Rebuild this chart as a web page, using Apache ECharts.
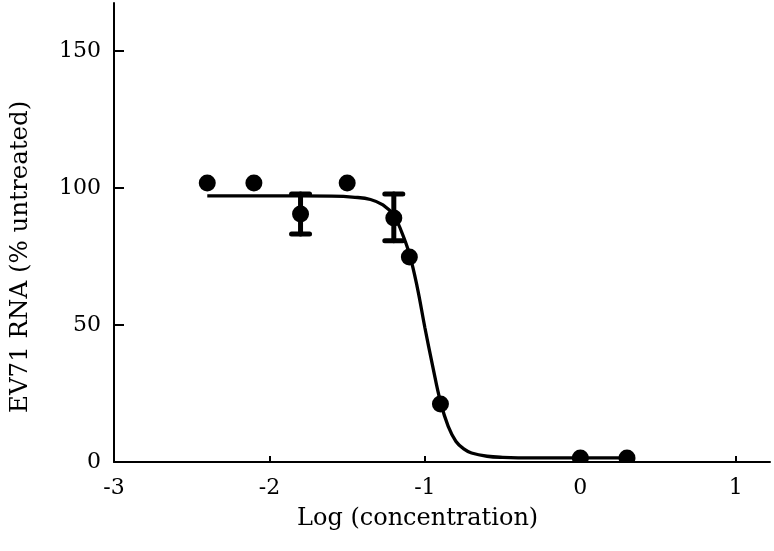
<!DOCTYPE html>
<html>
<head>
<meta charset="utf-8">
<script src="https://cdn.jsdelivr.net/npm/echarts@6/dist/echarts.min.js"></script>
<style>html,body{margin:0;padding:0;background:#fff;}#c{width:774px;height:551px;}</style>
</head>
<body>
<div id="c"></div>
<script>
// Measured points
const pointX = [-2.4, -2.1, -1.8, -1.5, -1.2, -1.1, -0.9, 0, 0.3];
const pointY = [101.8, 101.8, 90.5, 101.8, 89, 74.8, 21.2, 1.5, 1.5];
// Error bars (mean +/- SD)
const errX = [-1.8, -1.2];
const errLow = [83.2, 80.7];
const errHigh = [97.8, 97.8];
// Fitted curve
const curveX = [-2.4, -2.0, -1.6, -1.45, -1.35, -1.27, -1.2, -1.15, -1.1, -1.05, -1.0, -0.95, -0.9, -0.85, -0.8, -0.75, -0.7, -0.6, -0.5, -0.3, 0, 0.3];
const curveY = [97.1, 97.1, 97.0, 96.6, 95.8, 93.8, 90, 84, 76, 64, 49, 35, 22, 13, 7.5, 4.8, 3.3, 2.1, 1.7, 1.5, 1.5, 1.5];
// Ticks
const xTicks = [-3, -2, -1, 0, 1];
const yTicks = [0, 50, 100, 150];

const FONT = 'DejaVu Serif';
const chart = echarts.init(document.getElementById('c'), null, {renderer: 'canvas'});
chart.setOption({
  animation: false,
  backgroundColor: '#fff',
  grid: {left: 114, right: 4, top: 3, bottom: 89, containLabel: false},
  xAxis: {
    type: 'value', min: -3, max: 1.22,
    axisLine: {show: true, onZero: false, lineStyle: {color: '#000', width: 2}},
    axisTick: {show: true, inside: true, length: 6, lineStyle: {color: '#000', width: 2}, customValues: xTicks},
    axisLabel: {color: '#000', fontFamily: FONT, fontSize: 22, margin: 15, customValues: xTicks},
    splitLine: {show: false}
  },
  yAxis: {
    type: 'value', min: 0, max: 167.5,
    axisLine: {show: true, onZero: false, lineStyle: {color: '#000', width: 2}},
    axisTick: {show: true, inside: true, length: 10, lineStyle: {color: '#000', width: 2}, customValues: yTicks},
    axisLabel: {color: '#000', fontFamily: FONT, fontSize: 22, margin: 13, customValues: yTicks},
    splitLine: {show: false}
  },
  graphic: [
    {type: 'text', left: 297, top: 507, style: {text: 'Log (concentration)', font: '24px "' + FONT + '"', fill: '#000'}},
    {type: 'text', rotation: Math.PI / 2, x: 8, y: 413, style: {text: 'EV71 RNA (% untreated)', font: '24.5px "' + FONT + '"', fill: '#000', textAlign: 'left', textVerticalAlign: 'top'}}
  ],
  series: [
    {
      type: 'line', data: curveX.map((x, i) => [x, curveY[i]]), smooth: 0.4, showSymbol: false,
      lineStyle: {color: '#000', width: 3.3}, z: 2
    },
    {
      type: 'custom', z: 3,
      data: errX.map((x, i) => [x, errLow[i], errHigh[i]]),
      renderItem: function (params, api) {
        const lo = api.coord([api.value(0), api.value(1)]);
        const hi = api.coord([api.value(0), api.value(2)]);
        const hw = 9;
        const st = {stroke: '#000', lineWidth: 5, lineCap: 'round'};
        return {type: 'group', children: [
          {type: 'line', shape: {x1: lo[0], y1: lo[1], x2: hi[0], y2: hi[1]}, style: st},
          {type: 'line', shape: {x1: lo[0] - hw, y1: lo[1], x2: lo[0] + hw, y2: lo[1]}, style: st},
          {type: 'line', shape: {x1: hi[0] - hw, y1: hi[1], x2: hi[0] + hw, y2: hi[1]}, style: st}
        ]};
      }
    },
    {
      type: 'custom', z: 4,
      data: pointX.map((x, i) => [x, pointY[i]]),
      renderItem: function (params, api) {
        const p = api.coord([api.value(0), api.value(1)]);
        const cs = params.coordSys;
        return {
          type: 'circle', shape: {cx: p[0], cy: p[1], r: 8.5}, style: {fill: '#000'},
          clipPath: {type: 'rect', shape: {x: cs.x, y: cs.y, width: cs.width, height: cs.height}}
        };
      }
    }
  ]
});
</script>
</body>
</html>
